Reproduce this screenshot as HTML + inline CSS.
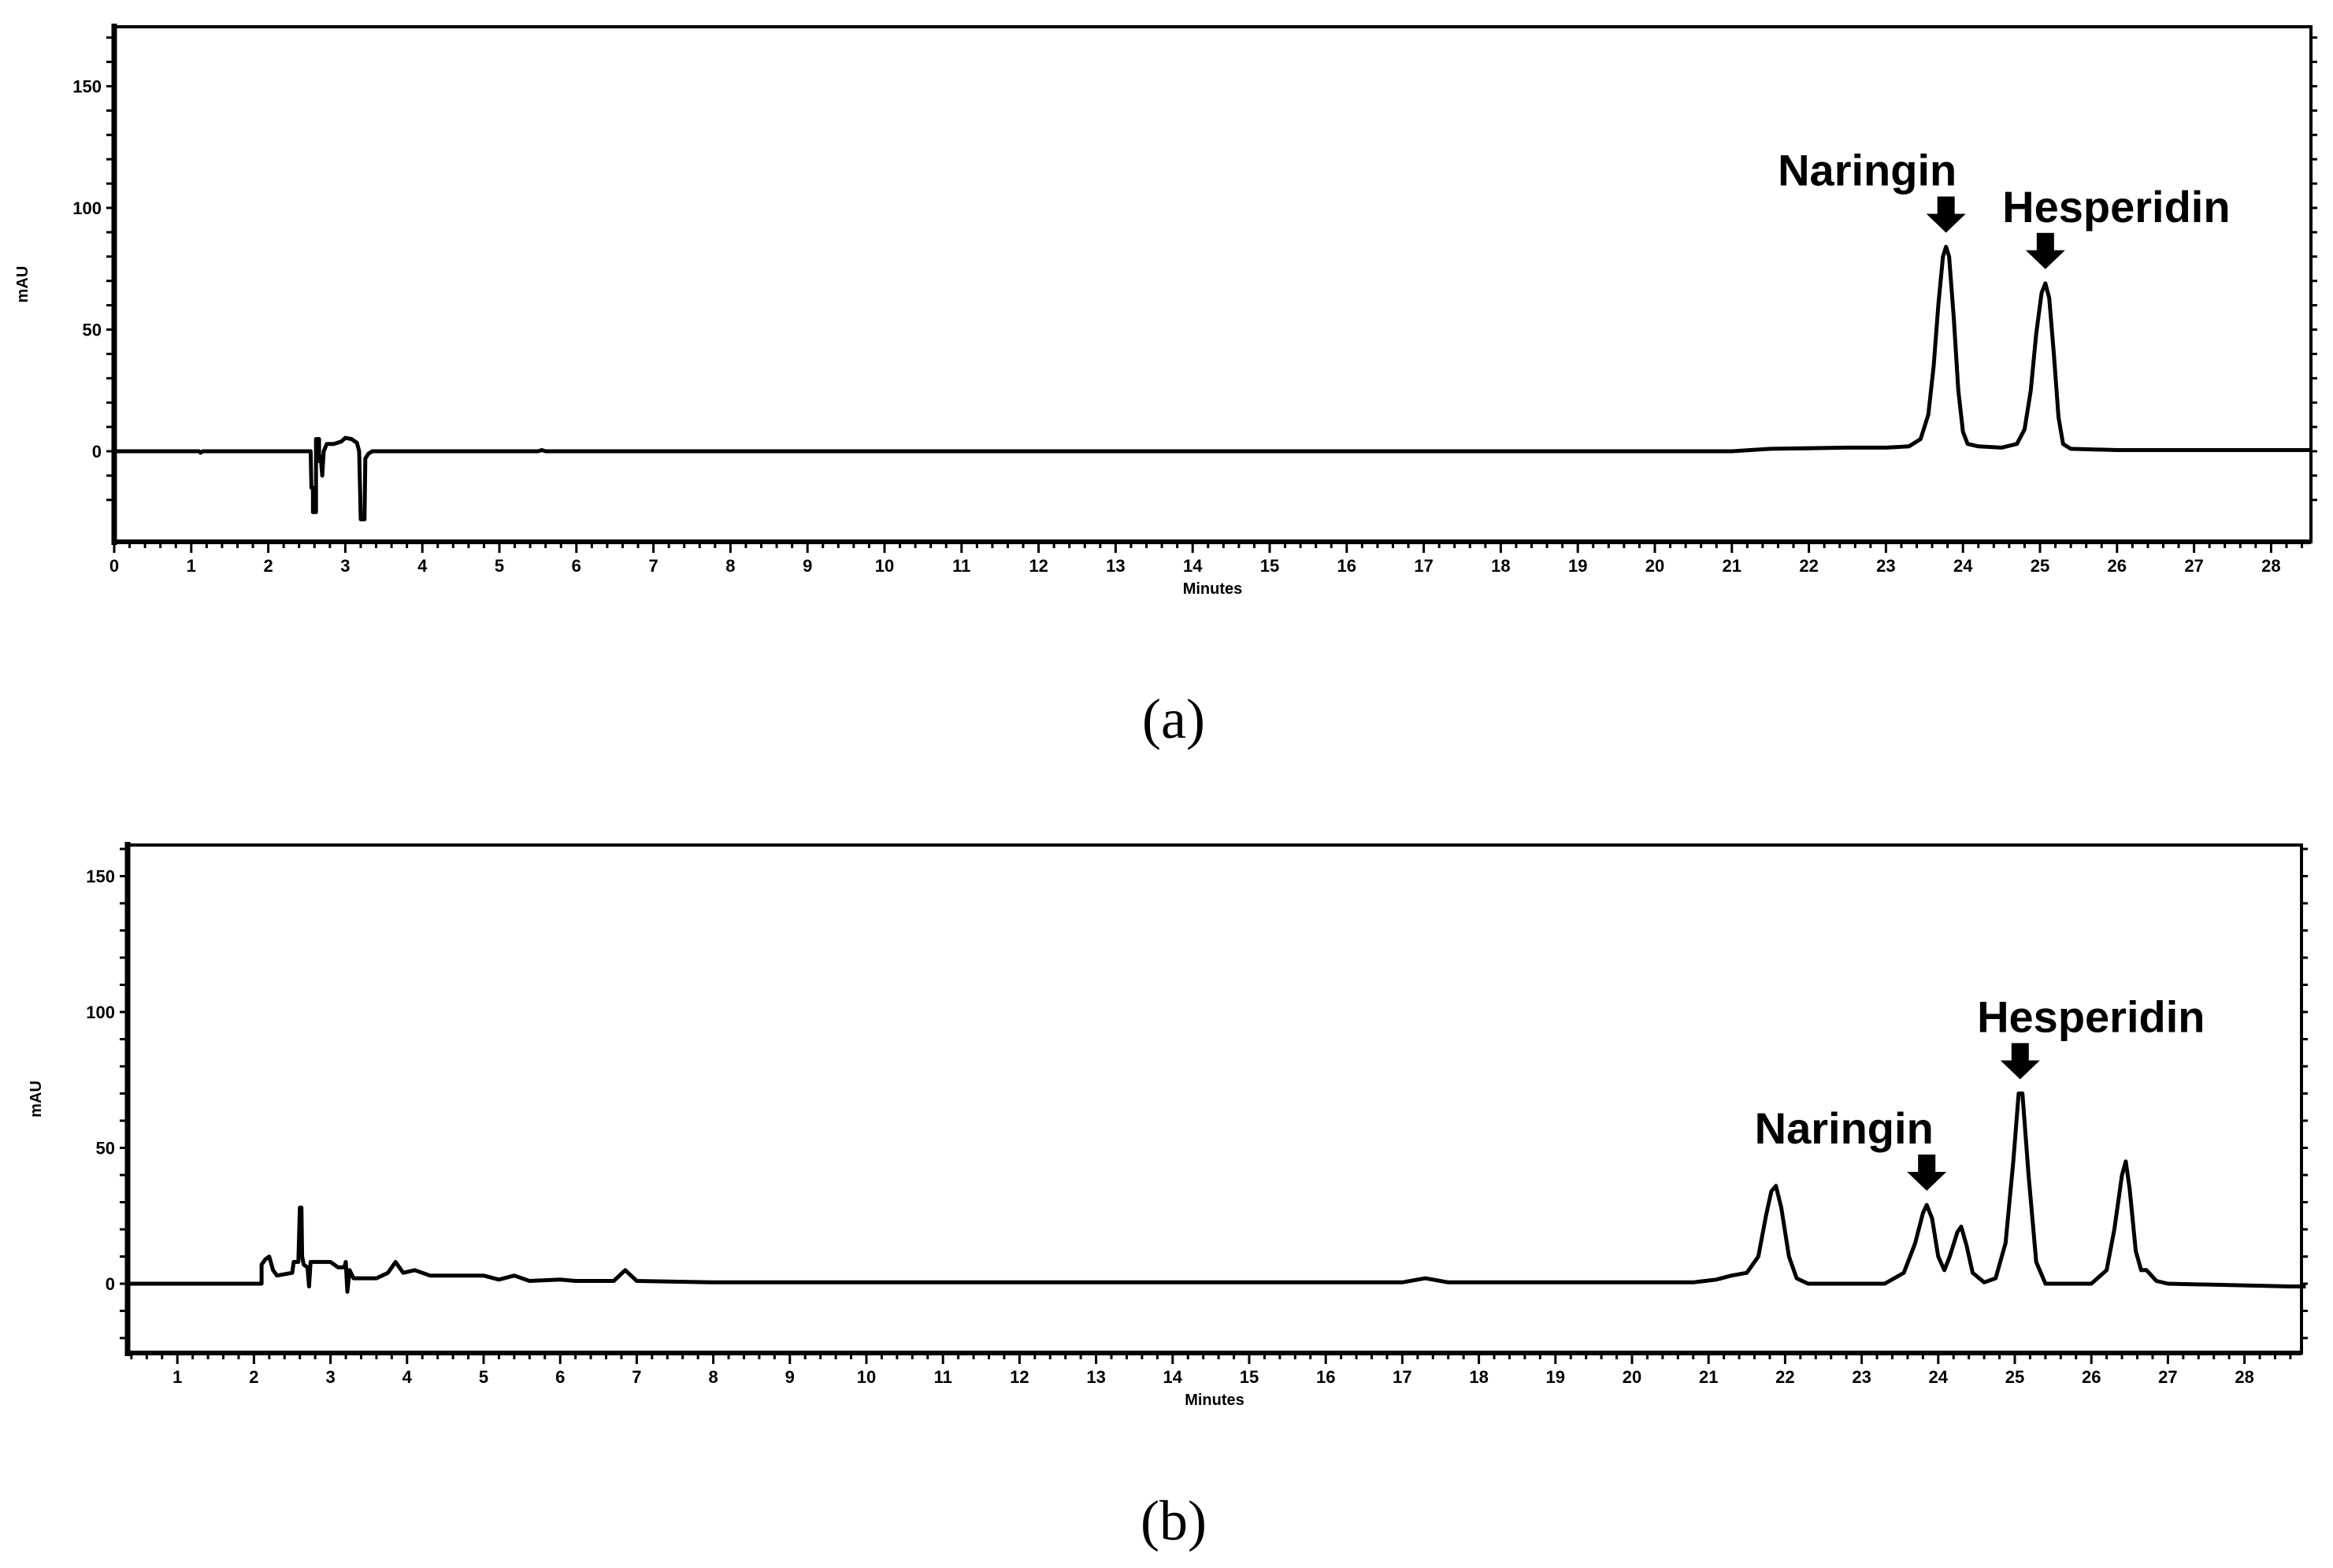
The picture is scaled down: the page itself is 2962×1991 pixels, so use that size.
<!DOCTYPE html>
<html><head><meta charset="utf-8">
<style>
html,body{margin:0;padding:0;background:#fff;}
svg{display:block;}
text{font-family:"Liberation Sans",sans-serif;}
text.cap{font-family:"Liberation Serif",serif;}
</style></head>
<body>
<svg id="fig" width="2962" height="1991" viewBox="0 0 2962 1991" xmlns="http://www.w3.org/2000/svg">
<rect width="2962" height="1991" fill="#fff"/>
</svg>
<script>
// ---- Panel (a) standard data ----
const traceA_t = [0,1.1,1.12,1.15,2.55,2.56,2.58,2.58,2.62,2.62,2.66,2.66,2.68,2.7,2.72,2.76,2.85,2.95,3.0,3.08,3.15,3.18,3.2,3.25,3.26,3.3,3.35,5.5,5.55,5.6,21.0,21.5,22.5,23.0,23.3,23.45,23.55,23.62,23.68,23.74,23.78,23.82,23.88,23.94,24.0,24.06,24.2,24.5,24.7,24.8,24.88,24.95,25.02,25.07,25.12,25.18,25.24,25.3,25.4,26,28.5];
const traceA_v = [0,0,-0.6,0,0,-15,-15,-25,-25,5,5,-4,-2,-10,0,3,3,4,5.5,5,3.5,0,-28,-28,-3,-1,0,0,0.5,0,0,1,1.5,1.5,2,5,15,35,60,80,84,80,55,25,8,3,2,1.5,3,9,25,48,65,69,63,40,14,3,1,0.5,0.5];
const xTicksA = [0,1,2,3,4,5,6,7,8,9,10,11,12,13,14,15,16,17,18,19,20,21,22,23,24,25,26,27,28];
const yTicksA = [0,50,100,150];
const labelsA = ["Naringin","Hesperidin"];
const labelTimesA = [23.78,25.07];
const labelValsA = [84,69];

// ---- Panel (b) sample data ----
const traceB_t = [0.35,2.1,2.1,2.15,2.2,2.25,2.3,2.4,2.5,2.52,2.58,2.6,2.62,2.63,2.65,2.7,2.72,2.74,2.8,3.0,3.1,3.18,3.2,3.22,3.25,3.3,3.6,3.75,3.85,3.95,4.1,4.3,4.5,5.0,5.2,5.4,5.6,6.0,6.2,6.7,6.85,7.0,8,17,17.3,17.6,20.8,21.1,21.3,21.5,21.65,21.75,21.82,21.88,21.95,22.05,22.15,22.3,23.3,23.55,23.7,23.8,23.85,23.92,24.0,24.08,24.15,24.25,24.3,24.37,24.45,24.6,24.75,24.88,24.98,25.05,25.1,25.18,25.28,25.4,26.0,26.2,26.3,26.4,26.45,26.5,26.58,26.65,26.72,26.85,27,28.6,28.8];
const traceB_v = [0,0,7,9,10,5,3,3.5,4,8,8,28,28,10,7,6,-1,8,8,8,6,6,8,-3,5,2,2,4,8,4,5,3,3,3,1.5,3,1,1.5,1,1,5,1,0.5,0.5,2,0.5,0.5,1.5,3,4,10,25,34,36,28,10,2,0,0,4,15,26,29,24,10,5,10,19,21,14,4,0.5,2,15,45,70,70,40,8,0,0,5,20,40,45,35,12,5,5,1,0,-1,-1];
const xTicksB = [1,2,3,4,5,6,7,8,9,10,11,12,13,14,15,16,17,18,19,20,21,22,23,24,25,26,27,28];
const yTicksB = [0,50,100,150];
const labelsB = ["Naringin","Hesperidin"];
const labelTimesB = [23.85,25.07];
const labelValsB = [29,70];

const svg = document.getElementById('fig');
const NS = 'http://www.w3.org/2000/svg';
function mk(tag, attrs, parent){
  const e = document.createElementNS(NS, tag);
  for (const k in attrs) e.setAttribute(k, attrs[k]);
  (parent||svg).appendChild(e);
  return e;
}

function panel(cfg){
  const g = mk('g', {});
  
  
  const X = t => cfg.x0 + t*cfg.pxMin;
  const Y = v => cfg.y0 - v*cfg.pxU;
  const fr = mk('rect', {x:cfg.left, y:cfg.top, width:cfg.right-cfg.left, height:cfg.bottom-cfg.top, fill:'none', stroke:'#000', 'stroke-width':4}, g);
  
  
  const ya = mk('line', {x1:cfg.left, y1:cfg.top-4, x2:cfg.left, y2:cfg.bottom+4, stroke:'#000','stroke-width':7}, g);
  
  
  const xa = mk('line', {x1:cfg.left, y1:cfg.bottom, x2:cfg.right, y2:cfg.bottom, stroke:'#000','stroke-width':6}, g);
  
  
  for (let t = Math.ceil((cfg.left-cfg.x0)/cfg.pxMin*5)/5; X(t) <= cfg.right; t += 0.2){
    const major = Math.abs(t - Math.round(t)) < 0.01;
    mk('line', {x1:X(t), y1:cfg.bottom, x2:X(t), y2:cfg.bottom+(major?14:8), stroke:'#000','stroke-width':3}, g);
  }
  for (let v = -20; Y(v) >= cfg.top; v += 10){
    if (Y(v) > cfg.bottom) continue;
    mk('line', {x1:cfg.left-10, y1:Y(v), x2:cfg.left, y2:Y(v), stroke:'#000','stroke-width':3}, g);
    if (cfg.rightTicks) mk('line', {x1:cfg.right, y1:Y(v), x2:cfg.right+8, y2:Y(v), stroke:'#000','stroke-width':3}, g);
  }
  cfg.xt.forEach(t => {
    const tl = mk('text', {x:X(t), y:cfg.bottom+38, 'font-size':22, 'font-weight':'bold', 'text-anchor':'middle'}, g);
    
    
    tl.textContent = t;
  });
  cfg.yt.forEach(v => {
    const tl = mk('text', {x:cfg.left-16, y:Y(v)+8, 'font-size':22, 'font-weight':'bold', 'text-anchor':'end'}, g);
    
    
    tl.textContent = v;
  });
  const xt = mk('text', {x:(cfg.left+cfg.right)/2, y:cfg.bottom+66, 'font-size':20, 'font-weight':'bold', 'text-anchor':'middle'}, g);
  
  
  xt.textContent = 'Minutes';
  const yt = mk('text', {x:0, y:0, 'font-size':20, 'font-weight':'bold', 'text-anchor':'middle', transform:`translate(${cfg.left-110},${(cfg.top+cfg.bottom)/2}) rotate(-90)`}, g);
  
  
  yt.textContent = 'mAU';
  let d = '';
  cfg.tt.forEach((t,i) => { d += (i?'L':'M') + X(t).toFixed(1) + ',' + Y(cfg.vv[i]).toFixed(1); });
  const p = mk('path', {d:d, fill:'none', stroke:'#000', 'stroke-width':5, 'stroke-linejoin':'round'}, g);
  
  
  cfg.labels.forEach((name,i) => {
    const px = X(cfg.lt[i]), py = Y(cfg.lv[i]);
    const ay = py - 20;
    const ar = mk('path', {d:`M${px-11},${ay-44}h22v22h14l-25,24l-25,-24h14z`, fill:'#000'}, g);
    
    
    const tx = mk('text', {x:px + cfg.labelDx[i], y:ay - 58, 'font-size':56, 'font-weight':'bold', 'text-anchor':'middle'}, g);
    
    
    tx.textContent = name;
  });
  const cap = mk('text', {x:1490, y:cfg.capY, 'font-size':72, 'text-anchor':'middle', 'class':'cap'}, svg);
  
  
  cap.textContent = cfg.cap;
}

panel({name:'panel-a-standard', left:145, top:34, right:2934, bottom:688, x0:145, pxMin:97.8, y0:573, pxU:3.09,
  tt:traceA_t, vv:traceA_v, xt:xTicksA, yt:yTicksA, rightTicks:true,
  labels:labelsA, lt:labelTimesA, lv:labelValsA, labelDx:[-100,90],
  capY:937, cap:'(a)', capName:'caption-a'});
panel({name:'panel-b-sample', left:162, top:1073, right:2922, bottom:1718, x0:128, pxMin:97.2, y0:1630, pxU:3.45,
  tt:traceB_t, vv:traceB_v, xt:xTicksB, yt:yTicksB, rightTicks:true,
  labels:labelsB, lt:labelTimesB, lv:labelValsB, labelDx:[-105,90],
  capY:1955, cap:'(b)', capName:'caption-b'});
</script>
</body></html>
